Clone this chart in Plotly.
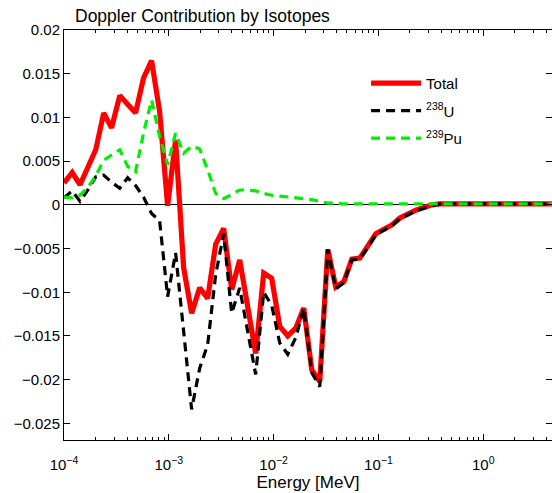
import plotly.graph_objects as go

energy = [1.000e-4, 1.198e-4, 1.422e-4, 1.688e-4, 2.008e-4, 2.394e-4, 2.843e-4, 3.404e-4,
          4.050e-4, 4.819e-4, 5.733e-4, 6.850e-4, 8.169e-4, 9.739e-4, 1.161e-3, 1.385e-3,
          1.651e-3, 1.969e-3, 2.348e-3, 2.799e-3, 3.338e-3, 3.980e-3, 4.746e-3, 5.658e-3,
          6.746e-3, 8.044e-3, 9.591e-3, 1.144e-2, 1.364e-2, 1.626e-2, 1.939e-2, 2.312e-2,
          2.756e-2, 3.287e-2, 3.919e-2, 4.673e-2, 5.572e-2, 6.643e-2, 7.921e-2, 9.445e-2,
          0.1126, 0.1343, 0.1601, 0.1909, 0.2276, 0.2714, 0.3236, 0.3858, 0.599, 0.930,
          1.444, 2.242, 3.48, 5.40]

total = [0.0025, 0.0037, 0.0023, 0.0043, 0.0063, 0.0105, 0.0088, 0.0125, 0.0115, 0.0105,
         0.0145, 0.0165, 0.0107, -0.0001, 0.0074, -0.0072, -0.0124, -0.0095, -0.0107, -0.0045,
         -0.0027, -0.0097, -0.0063, -0.0117, -0.0170, -0.0078, -0.0084, -0.0139, -0.0150, -0.0141,
         -0.0118, -0.0189, -0.0202, -0.0051, -0.0094, -0.0088, -0.0062, -0.0061, -0.0048, -0.0033,
         -0.0028, -0.0023, -0.0015, -0.0010, -0.0006, -0.0003, 0.0000, 0.0001, 0.0001, 0.0001,
         0.0001, 0.0001, 0.0001, 0.0001]

u238 = [0.0008, 0.0016, 0.0004, 0.0017, 0.0032, 0.0034, 0.0026, 0.0019, 0.0031, 0.0022,
        0.0009, -0.0010, -0.0018, -0.0105, -0.0055, -0.0145, -0.0234, -0.0187, -0.0160, -0.0080,
        -0.0033, -0.0124, -0.0095, -0.0145, -0.0194, -0.0100, -0.0115, -0.0158, -0.0171, -0.0152,
        -0.0118, -0.0192, -0.0208, -0.0051, -0.0096, -0.0089, -0.0063, -0.0062, -0.0049, -0.0034,
        -0.0029, -0.0024, -0.0016, -0.0011, -0.0007, -0.0004, -0.0001, 0.0001, 0.0001, 0.0001,
        0.0001, 0.0001, 0.0001, 0.0001]

pu239 = [0.0009, 0.0008, 0.0011, 0.0020, 0.0033, 0.0051, 0.0057, 0.0063, 0.0044, 0.0038,
         0.0082, 0.0120, 0.0078, 0.0046, 0.0082, 0.0059, 0.0067, 0.0064, 0.0040, 0.0013,
         0.0007, 0.0012, 0.0017, 0.0017, 0.0016, 0.0013, 0.0011, 0.0010, 0.0009, 0.0008,
         0.0007, 0.0006, 0.0004, 0.0002, 0.0002, 0.0001, 0.0001, 0.0001, 0.0001, 0.0001,
         0.0001, 0.0001, 0.0001, 0.0001, 0.0001, 0.0001, 0.0001, 0.0001, 0.0001, 0.0001,
         0.0001, 0.0001, 0.0001, 0.0001]

x_major = [1e-4, 1e-3, 1e-2, 1e-1, 1e0]
x_major_text = ["10<sup>\u22124</sup>", "10<sup>\u22123</sup>", "10<sup>\u22122</sup>",
                "10<sup>\u22121</sup>", "10<sup>0</sup>"]
y_ticks = [0.02, 0.015, 0.01, 0.005, 0, -0.005, -0.01, -0.015, -0.02, -0.025]
y_text = ["0.02", "0.015", "0.01", "0.005", "0", "\u22120.005", "\u22120.01",
          "\u22120.015", "\u22120.02", "\u22120.025"]

x_minor = [m * 10.0 ** d for d in range(-4, 1) for m in range(2, 10)]

FONT = "Liberation Sans, Arial, Helvetica, sans-serif"

fig = go.Figure()
fig.add_trace(go.Scatter(x=energy, y=total, mode="lines", name="Total", legendgroup="a",
                         line=dict(color="#ff0000", width=5.2)))
fig.add_trace(go.Scatter(x=energy, y=u238, mode="lines", name="<sup>238</sup>U", legendgroup="b",
                         line=dict(color="#000000", width=3.2, dash="9px,6px")))
fig.add_trace(go.Scatter(x=energy, y=pu239, mode="lines", name="<sup>239</sup>Pu", legendgroup="c",
                         line=dict(color="#00ee00", width=3.2, dash="9px,6px")))

fig.update_layout(
    width=552, height=493,
    margin=dict(l=64, r=0, t=30, b=53),
    paper_bgcolor="white", plot_bgcolor="white",
    font=dict(family=FONT, size=15, color="black"),
    title=dict(text="Doppler Contribution by Isotopes", xref="container", yref="container",
               x=75 / 552, xanchor="left", y=1 - 16 / 493, yanchor="middle",
               font=dict(size=17.5, family=FONT, color="black")),
    legend=dict(x=0.619, y=0.91, xanchor="left", yanchor="top",
                bgcolor="rgba(0,0,0,0)", borderwidth=0, itemwidth=50,
                tracegroupgap=5,
                font=dict(size=15, family=FONT)),
    showlegend=True,
    hovermode=False,
)

fig.update_xaxes(type="log", range=[-4, 0.656],
                 tickvals=x_major, ticktext=x_major_text,
                 ticks="inside", ticklen=6, tickcolor="black", ticklabelstandoff=11,
                 minor=dict(ticks="inside", ticklen=3, tickvals=x_minor, tickcolor="black"),
                 showline=True, linecolor="black", linewidth=1, mirror="ticks",
                 showgrid=False, zeroline=False,
                 title=dict(text="Energy [MeV]", font=dict(size=17, family=FONT), standoff=4),
                 tickfont=dict(size=15, family=FONT))
fig.update_yaxes(range=[-0.0269, 0.02], tickvals=y_ticks, ticktext=y_text,
                 ticks="inside", ticklen=6, tickcolor="black",
                 showline=True, linecolor="black", linewidth=1, mirror="ticks",
                 showgrid=False, zeroline=True, zerolinecolor="black", zerolinewidth=1,
                 tickfont=dict(size=15, family=FONT))

fig.write_html("out.html", config={"displayModeBar": False},
               post_script="document.body.style.margin='0';document.body.style.overflow='hidden';")
